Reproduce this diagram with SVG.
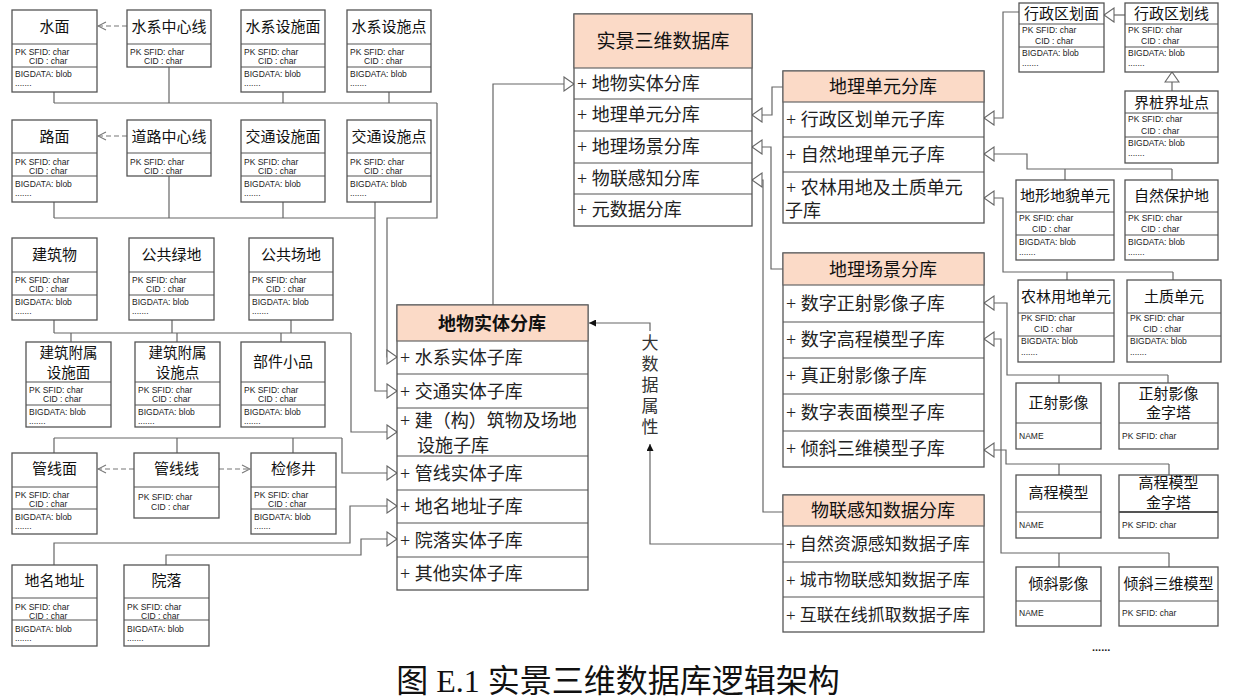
<svg xmlns="http://www.w3.org/2000/svg" width="1236" height="700" viewBox="0 0 1236 700">
<style>
.bx{fill:#fff;stroke:#555;stroke-width:1.3}
.hd{fill:#fbdac7;stroke:#666;stroke-width:1.2}
.sp{stroke:#555;stroke-width:1.1}
.t{font-family:"Noto Sans CJK SC",sans-serif;font-size:15px;fill:#111;text-anchor:middle}
.a{font-family:"Liberation Sans",Arial,sans-serif;font-size:8.5px;fill:#222}
.h{font-family:"Noto Sans CJK SC",sans-serif;font-size:18px;fill:#111;text-anchor:middle}
.i{font-family:"Liberation Serif","Noto Sans CJK SC",serif;font-size:18px;fill:#222}
.c{fill:none;stroke:#666;stroke-width:1.2}
.d{fill:none;stroke:#777;stroke-width:1.2;stroke-dasharray:5 3}
</style>
<defs>
<marker id="tri" viewBox="-1 -1 13 16" markerWidth="13" markerHeight="16" refX="10" refY="7" orient="auto" markerUnits="userSpaceOnUse"><path d="M0,0 L10,7 L0,14 z" fill="#fff" stroke="#666" stroke-width="1.1"/></marker>
<marker id="vee" viewBox="-1 -1 10 10" markerWidth="10" markerHeight="10" refX="8" refY="4" orient="auto" markerUnits="userSpaceOnUse"><path d="M0,0 L8,4 L0,8" fill="none" stroke="#777" stroke-width="1.1"/></marker>
<marker id="fil" viewBox="0 0 8 7" markerWidth="8" markerHeight="7" refX="7" refY="3.5" orient="auto" markerUnits="userSpaceOnUse"><path d="M0,0 L7,3.5 L0,7 z" fill="#111"/></marker>
</defs>
<rect width="1236" height="700" fill="#fff"/>

<g id="connectors">
<path class="c" d="M54,92V103M169,67V103M283,92V103M389,92V103M54,103H437"/>
<path class="c" d="M437,103V218H387V357H397" marker-end="url(#tri)"/>
<path class="c" d="M54,202V218M169,176V218M283,202V218M54,218H375"/>
<path class="c" d="M375,202V391H397" marker-end="url(#tri)"/>
<path class="c" d="M54,320V333M172,320V333M291,320V333M54,333H351M71,333V342M177,333V342M281,333V342"/>
<path class="c" d="M351,333V432H397" marker-end="url(#tri)"/>
<path class="c" d="M54,438H342M54,438V453M177,438V453M293,438V453"/>
<path class="c" d="M342,438V473H397" marker-end="url(#tri)"/>
<path class="c" d="M54,565V543H350V506H397" marker-end="url(#tri)"/>
<path class="c" d="M166,565V555H361V539H397" marker-end="url(#tri)"/>
<path class="d" d="M127,26H98" marker-end="url(#vee)"/>
<path class="d" d="M127,136H98" marker-end="url(#vee)"/>
<path class="d" d="M134,469H98" marker-end="url(#vee)"/>
<path class="d" d="M219,469H250" marker-end="url(#vee)"/>
<path class="c" d="M493,305V84H574" marker-end="url(#tri)"/>
<path class="c" d="M783,87H772V115H752" marker-end="url(#tri)"/>
<path class="c" d="M783,269H771V147H752" marker-end="url(#tri)"/>
<path class="c" d="M783,512H763V180H752" marker-end="url(#tri)"/>
<path class="c" d="M1019,12H1003V118H984" marker-end="url(#tri)"/>
<path class="c" d="M1125,15H1104" marker-end="url(#tri)"/>
<path class="c" d="M1172,91V72" marker-end="url(#tri)"/>
<path class="c" d="M1065,180V169M1172,180V169"/>
<path class="c" d="M1172,169H1027V154H984" marker-end="url(#tri)"/>
<path class="c" d="M1067,280V272M1173,280V272"/>
<path class="c" d="M1173,272H1003V198H984" marker-end="url(#tri)"/>
<path class="c" d="M1059,383V375M1168,383V375"/>
<path class="c" d="M1168,375H1007V303H984" marker-end="url(#tri)"/>
<path class="c" d="M1059,475V464M1169,475V464"/>
<path class="c" d="M1169,464H1006V450H984" marker-end="url(#tri)"/>
<path class="c" d="M1059,567V553M1169,567V553"/>
<path class="c" d="M1169,553H1001V339H984" marker-end="url(#tri)"/>
<path class="c" d="M783,544H650V444" marker-end="url(#fil)"/>
<path class="c" d="M650,331V323H589" marker-end="url(#fil)"/>
</g>

<text id="label-bigdata" x="650" y="334" writing-mode="vertical-rl" style="font-family:'Noto Sans CJK SC',sans-serif;font-size:17px;fill:#333;letter-spacing:4px">大数据属性</text>

<!-- Row 1 -->
<g id="n-shuimian"><rect class="bx" x="12" y="10" width="85" height="82"/><line class="sp" x1="12" y1="44" x2="97" y2="44"/><line class="sp" x1="12" y1="67" x2="97" y2="67"/>
<text class="t" x="54.5" y="32">水面</text><text class="a" x="15" y="55">PK SFID: char</text><text class="a" x="29" y="64">CID  : char</text><text class="a" x="15" y="77">BIGDATA: blob</text><text class="a" x="15" y="86">.......</text></g>
<g id="n-shuixizhongxinxian"><rect class="bx" x="127" y="10" width="84" height="57"/><line class="sp" x1="127" y1="44" x2="211" y2="44"/>
<text class="t" x="169" y="32">水系中心线</text><text class="a" x="130" y="55">PK SFID: char</text><text class="a" x="144" y="64">CID  : char</text></g>
<g id="n-shuixisheshimian"><rect class="bx" x="241" y="10" width="84" height="82"/><line class="sp" x1="241" y1="44" x2="325" y2="44"/><line class="sp" x1="241" y1="67" x2="325" y2="67"/>
<text class="t" x="283" y="32">水系设施面</text><text class="a" x="244" y="55">PK SFID: char</text><text class="a" x="258" y="64">CID  : char</text><text class="a" x="244" y="77">BIGDATA: blob</text><text class="a" x="244" y="86">.......</text></g>
<g id="n-shuixisheshidian"><rect class="bx" x="347" y="10" width="84" height="82"/><line class="sp" x1="347" y1="44" x2="431" y2="44"/><line class="sp" x1="347" y1="67" x2="431" y2="67"/>
<text class="t" x="389" y="32">水系设施点</text><text class="a" x="350" y="55">PK SFID: char</text><text class="a" x="364" y="64">CID  : char</text><text class="a" x="350" y="77">BIGDATA: blob</text><text class="a" x="350" y="86">.......</text></g>

<!-- Row 2 -->
<g id="n-lumian"><rect class="bx" x="12" y="120" width="85" height="82"/><line class="sp" x1="12" y1="153" x2="97" y2="153"/><line class="sp" x1="12" y1="176" x2="97" y2="176"/>
<text class="t" x="54.5" y="142">路面</text><text class="a" x="15" y="165">PK SFID: char</text><text class="a" x="29" y="174">CID  : char</text><text class="a" x="15" y="187">BIGDATA: blob</text><text class="a" x="15" y="196">.......</text></g>
<g id="n-daoluzhongxinxian"><rect class="bx" x="127" y="120" width="84" height="56"/><line class="sp" x1="127" y1="153" x2="211" y2="153"/>
<text class="t" x="169" y="142">道路中心线</text><text class="a" x="130" y="165">PK SFID: char</text><text class="a" x="144" y="174">CID  : char</text></g>
<g id="n-jiaotongsheshimian"><rect class="bx" x="241" y="120" width="84" height="82"/><line class="sp" x1="241" y1="153" x2="325" y2="153"/><line class="sp" x1="241" y1="176" x2="325" y2="176"/>
<text class="t" x="283" y="142">交通设施面</text><text class="a" x="244" y="165">PK SFID: char</text><text class="a" x="258" y="174">CID  : char</text><text class="a" x="244" y="187">BIGDATA: blob</text><text class="a" x="244" y="196">.......</text></g>
<g id="n-jiaotongsheshidian"><rect class="bx" x="347" y="120" width="84" height="82"/><line class="sp" x1="347" y1="153" x2="431" y2="153"/><line class="sp" x1="347" y1="176" x2="431" y2="176"/>
<text class="t" x="389" y="142">交通设施点</text><text class="a" x="350" y="165">PK SFID: char</text><text class="a" x="364" y="174">CID  : char</text><text class="a" x="350" y="187">BIGDATA: blob</text><text class="a" x="350" y="196">.......</text></g>

<!-- Row 3 -->
<g id="n-jianzhuwu"><rect class="bx" x="12" y="238" width="85" height="82"/><line class="sp" x1="12" y1="272" x2="97" y2="272"/><line class="sp" x1="12" y1="295" x2="97" y2="295"/>
<text class="t" x="54.5" y="260">建筑物</text><text class="a" x="15" y="283">PK SFID: char</text><text class="a" x="29" y="292">CID  : char</text><text class="a" x="15" y="305">BIGDATA: blob</text><text class="a" x="15" y="314">.......</text></g>
<g id="n-gonggonglvdi"><rect class="bx" x="129" y="238" width="85" height="82"/><line class="sp" x1="129" y1="272" x2="214" y2="272"/><line class="sp" x1="129" y1="295" x2="214" y2="295"/>
<text class="t" x="171.5" y="260">公共绿地</text><text class="a" x="132" y="283">PK SFID: char</text><text class="a" x="146" y="292">CID  : char</text><text class="a" x="132" y="305">BIGDATA: blob</text><text class="a" x="132" y="314">.......</text></g>
<g id="n-gonggongchangdi"><rect class="bx" x="249" y="238" width="84" height="82"/><line class="sp" x1="249" y1="272" x2="333" y2="272"/><line class="sp" x1="249" y1="295" x2="333" y2="295"/>
<text class="t" x="291" y="260">公共场地</text><text class="a" x="252" y="283">PK SFID: char</text><text class="a" x="266" y="292">CID  : char</text><text class="a" x="252" y="305">BIGDATA: blob</text><text class="a" x="252" y="314">.......</text></g>

<!-- Row 4 -->
<g id="n-jianzhufushumian"><rect class="bx" x="26" y="342" width="85" height="85"/><line class="sp" x1="26" y1="382" x2="111" y2="382"/><line class="sp" x1="26" y1="405" x2="111" y2="405"/>
<text class="t" x="68.5" y="358" style="font-size:14.5px">建筑附属<tspan x="68.5" dy="20">设施面</tspan></text><text class="a" x="29" y="393">PK SFID: char</text><text class="a" x="43" y="402">CID  : char</text><text class="a" x="29" y="415">BIGDATA: blob</text><text class="a" x="29" y="424">.......</text></g>
<g id="n-jianzhufushudian"><rect class="bx" x="135" y="342" width="85" height="85"/><line class="sp" x1="135" y1="382" x2="220" y2="382"/><line class="sp" x1="135" y1="405" x2="220" y2="405"/>
<text class="t" x="177.5" y="358" style="font-size:14.5px">建筑附属<tspan x="177.5" dy="20">设施点</tspan></text><text class="a" x="138" y="393">PK SFID: char</text><text class="a" x="152" y="402">CID  : char</text><text class="a" x="138" y="415">BIGDATA: blob</text><text class="a" x="138" y="424">.......</text></g>
<g id="n-bujianxiaopin"><rect class="bx" x="241" y="342" width="84" height="85"/><line class="sp" x1="241" y1="382" x2="325" y2="382"/><line class="sp" x1="241" y1="405" x2="325" y2="405"/>
<text class="t" x="283" y="367">部件小品</text><text class="a" x="244" y="393">PK SFID: char</text><text class="a" x="258" y="402">CID  : char</text><text class="a" x="244" y="415">BIGDATA: blob</text><text class="a" x="244" y="424">.......</text></g>

<!-- Row 5 -->
<g id="n-guanxianmian"><rect class="bx" x="12" y="453" width="85" height="81"/><line class="sp" x1="12" y1="487" x2="97" y2="487"/><line class="sp" x1="12" y1="509" x2="97" y2="509"/>
<text class="t" x="54.5" y="474">管线面</text><text class="a" x="15" y="498">PK SFID: char</text><text class="a" x="29" y="507">CID  : char</text><text class="a" x="15" y="520">BIGDATA: blob</text><text class="a" x="15" y="529">.......</text></g>
<g id="n-guanxianxian"><rect class="bx" x="134" y="453" width="85" height="65"/><line class="sp" x1="134" y1="487" x2="219" y2="487"/>
<text class="t" x="176.5" y="474">管线线</text><text class="a" x="138" y="500">PK SFID: char</text><text class="a" x="151" y="510">CID  : char</text></g>
<g id="n-jianxiujing"><rect class="bx" x="251" y="453" width="85" height="81"/><line class="sp" x1="251" y1="487" x2="336" y2="487"/><line class="sp" x1="251" y1="509" x2="336" y2="509"/>
<text class="t" x="293.5" y="474">检修井</text><text class="a" x="254" y="498">PK SFID: char</text><text class="a" x="268" y="507">CID  : char</text><text class="a" x="254" y="520">BIGDATA: blob</text><text class="a" x="254" y="529">.......</text></g>

<!-- Row 6 -->
<g id="n-dimingdizhi"><rect class="bx" x="12" y="565" width="85" height="81"/><line class="sp" x1="12" y1="598" x2="97" y2="598"/><line class="sp" x1="12" y1="620" x2="97" y2="620"/>
<text class="t" x="54.5" y="586">地名地址</text><text class="a" x="15" y="610">PK SFID: char</text><text class="a" x="29" y="619">CID  : char</text><text class="a" x="15" y="632">BIGDATA: blob</text><text class="a" x="15" y="641">.......</text></g>
<g id="n-yuanluo"><rect class="bx" x="124" y="565" width="85" height="81"/><line class="sp" x1="124" y1="598" x2="209" y2="598"/><line class="sp" x1="124" y1="620" x2="209" y2="620"/>
<text class="t" x="166.5" y="586">院落</text><text class="a" x="127" y="610">PK SFID: char</text><text class="a" x="141" y="619">CID  : char</text><text class="a" x="127" y="632">BIGDATA: blob</text><text class="a" x="127" y="641">.......</text></g>

<!-- Main DB -->
<g id="n-main"><rect class="bx" x="574" y="14" width="178" height="212"/><rect class="hd" x="574" y="14" width="178" height="54"/>
<line class="sp" x1="574" y1="99" x2="752" y2="99"/><line class="sp" x1="574" y1="131" x2="752" y2="131"/><line class="sp" x1="574" y1="163" x2="752" y2="163"/><line class="sp" x1="574" y1="194" x2="752" y2="194"/>
<text class="h" x="663" y="48" style="font-size:19px">实景三维数据库</text>
<text class="i" x="577" y="90">+ 地物实体分库</text><text class="i" x="577" y="121">+ 地理单元分库</text><text class="i" x="577" y="153">+ 地理场景分库</text><text class="i" x="577" y="185">+ 物联感知分库</text><text class="i" x="577" y="216">+ 元数据分库</text></g>

<g id="n-diwu"><rect class="bx" x="397" y="305" width="191" height="285"/><rect class="hd" x="397" y="305" width="191" height="36"/>
<line class="sp" x1="397" y1="374" x2="588" y2="374"/><line class="sp" x1="397" y1="408" x2="588" y2="408"/><line class="sp" x1="397" y1="456" x2="588" y2="456"/><line class="sp" x1="397" y1="490" x2="588" y2="490"/><line class="sp" x1="397" y1="523" x2="588" y2="523"/><line class="sp" x1="397" y1="557" x2="588" y2="557"/>
<text class="h" x="492" y="330" style="font-weight:bold">地物实体分库</text>
<text class="i" x="400" y="364">+ 水系实体子库</text><text class="i" x="400" y="398">+ 交通实体子库</text><text class="i" x="400" y="427">+ 建（构）筑物及场地<tspan x="417" dy="25">设施子库</tspan></text>
<text class="i" x="400" y="480">+ 管线实体子库</text><text class="i" x="400" y="513">+ 地名地址子库</text><text class="i" x="400" y="547">+ 院落实体子库</text><text class="i" x="400" y="580">+ 其他实体子库</text></g>

<g id="n-dili"><rect class="bx" x="783" y="71" width="201" height="152"/><rect class="hd" x="783" y="71" width="201" height="31"/>
<line class="sp" x1="783" y1="137" x2="984" y2="137"/><line class="sp" x1="783" y1="172" x2="984" y2="172"/>
<text class="h" x="883" y="93">地理单元分库</text>
<text class="i" x="786" y="126">+ 行政区划单元子库</text><text class="i" x="786" y="161">+ 自然地理单元子库</text><text class="i" x="786" y="194">+ 农林用地及土质单元<tspan x="785" dy="23">子库</tspan></text></g>

<g id="n-changjing"><rect class="bx" x="783" y="253" width="201" height="214"/><rect class="hd" x="783" y="253" width="201" height="32"/>
<line class="sp" x1="783" y1="322" x2="984" y2="322"/><line class="sp" x1="783" y1="358" x2="984" y2="358"/><line class="sp" x1="783" y1="394" x2="984" y2="394"/><line class="sp" x1="783" y1="431" x2="984" y2="431"/>
<text class="h" x="883" y="276">地理场景分库</text>
<text class="i" x="786" y="310">+ 数字正射影像子库</text><text class="i" x="786" y="346">+ 数字高程模型子库</text><text class="i" x="786" y="382">+ 真正射影像子库</text><text class="i" x="786" y="419">+ 数字表面模型子库</text><text class="i" x="786" y="455">+ 倾斜三维模型子库</text></g>

<g id="n-wulian"><rect class="bx" x="783" y="495" width="201" height="137"/><rect class="hd" x="783" y="495" width="201" height="31"/>
<line class="sp" x1="783" y1="562" x2="984" y2="562"/><line class="sp" x1="783" y1="597" x2="984" y2="597"/>
<text class="h" x="883" y="517">物联感知数据分库</text>
<text class="i" x="786" y="550" style="font-size:17px">+ 自然资源感知数据子库</text><text class="i" x="786" y="586" style="font-size:17px">+ 城市物联感知数据子库</text><text class="i" x="786" y="621" style="font-size:17px">+ 互联在线抓取数据子库</text></g>

<!-- Right small boxes -->
<g id="n-xzqhm"><rect class="bx" x="1019" y="3" width="85" height="69"/><line class="sp" x1="1019" y1="24" x2="1104" y2="24"/><line class="sp" x1="1019" y1="47" x2="1104" y2="47"/>
<text class="t" x="1061.5" y="19">行政区划面</text><text class="a" x="1022" y="33">PK SFID: char</text><text class="a" x="1035" y="44">CID  : char</text><text class="a" x="1022" y="56">BIGDATA: blob</text><text class="a" x="1022" y="66">.......</text></g>
<g id="n-xzqhx"><rect class="bx" x="1125" y="3" width="93" height="69"/><line class="sp" x1="1125" y1="24" x2="1218" y2="24"/><line class="sp" x1="1125" y1="47" x2="1218" y2="47"/>
<text class="t" x="1171.5" y="19">行政区划线</text><text class="a" x="1128" y="33">PK SFID: char</text><text class="a" x="1141" y="44">CID  : char</text><text class="a" x="1128" y="56">BIGDATA: blob</text><text class="a" x="1128" y="66">.......</text></g>
<g id="n-jiezhuang"><rect class="bx" x="1125" y="91" width="93" height="72"/><line class="sp" x1="1125" y1="113" x2="1218" y2="113"/><line class="sp" x1="1125" y1="137" x2="1218" y2="137"/>
<text class="t" x="1171.5" y="108">界桩界址点</text><text class="a" x="1128" y="122">PK SFID: char</text><text class="a" x="1141" y="134">CID  : char</text><text class="a" x="1128" y="146">BIGDATA: blob</text><text class="a" x="1128" y="156">.......</text></g>
<g id="n-dixing"><rect class="bx" x="1016" y="180" width="98" height="80"/><line class="sp" x1="1016" y1="212" x2="1114" y2="212"/><line class="sp" x1="1016" y1="235" x2="1114" y2="235"/>
<text class="t" x="1065" y="201">地形地貌单元</text><text class="a" x="1019" y="221">PK SFID: char</text><text class="a" x="1032" y="232">CID  : char</text><text class="a" x="1019" y="245">BIGDATA: blob</text><text class="a" x="1019" y="255">.......</text></g>
<g id="n-ziranbaohu"><rect class="bx" x="1125" y="180" width="93" height="80"/><line class="sp" x1="1125" y1="212" x2="1218" y2="212"/><line class="sp" x1="1125" y1="235" x2="1218" y2="235"/>
<text class="t" x="1171.5" y="201">自然保护地</text><text class="a" x="1128" y="221">PK SFID: char</text><text class="a" x="1141" y="232">CID  : char</text><text class="a" x="1128" y="245">BIGDATA: blob</text><text class="a" x="1128" y="255">.......</text></g>
<g id="n-nonglin"><rect class="bx" x="1018" y="280" width="96" height="82"/><line class="sp" x1="1018" y1="313" x2="1114" y2="313"/><line class="sp" x1="1018" y1="336" x2="1114" y2="336"/>
<text class="t" x="1066" y="302">农林用地单元</text><text class="a" x="1021" y="321">PK SFID: char</text><text class="a" x="1034" y="332">CID  : char</text><text class="a" x="1021" y="344">BIGDATA: blob</text><text class="a" x="1021" y="355">.......</text></g>
<g id="n-tuzhi"><rect class="bx" x="1127" y="280" width="94" height="82"/><line class="sp" x1="1127" y1="313" x2="1221" y2="313"/><line class="sp" x1="1127" y1="336" x2="1221" y2="336"/>
<text class="t" x="1174" y="302">土质单元</text><text class="a" x="1130" y="321">PK SFID: char</text><text class="a" x="1143" y="332">CID  : char</text><text class="a" x="1130" y="344">BIGDATA: blob</text><text class="a" x="1130" y="355">.......</text></g>
<g id="n-zhengshe"><rect class="bx" x="1016" y="383" width="85" height="66"/><line class="sp" x1="1016" y1="423" x2="1101" y2="423"/>
<text class="t" x="1058.5" y="408">正射影像</text><text class="a" x="1019" y="439">NAME</text></g>
<g id="n-zhengshejzt"><rect class="bx" x="1119" y="383" width="99" height="66"/><line class="sp" x1="1119" y1="423" x2="1218" y2="423"/>
<text class="t" x="1168.5" y="399">正射影像<tspan x="1168.5" dy="19">金字塔</tspan></text><text class="a" x="1122" y="439">PK SFID: char</text></g>
<g id="n-gaocheng"><rect class="bx" x="1016" y="475" width="85" height="63"/><line class="sp" x1="1016" y1="512" x2="1101" y2="512"/>
<text class="t" x="1058.5" y="498">高程模型</text><text class="a" x="1019" y="528">NAME</text></g>
<g id="n-gaochengjzt"><rect class="bx" x="1119" y="475" width="99" height="63"/><line class="sp" x1="1119" y1="512" x2="1218" y2="512" style="stroke-width:1.8"/>
<text class="t" x="1168.5" y="488">高程模型<tspan x="1168.5" dy="20">金字塔</tspan></text><text class="a" x="1122" y="528">PK SFID: char</text></g>
<g id="n-qingxieyx"><rect class="bx" x="1016" y="567" width="85" height="59"/><line class="sp" x1="1016" y1="601" x2="1101" y2="601"/>
<text class="t" x="1058.5" y="589">倾斜影像</text><text class="a" x="1019" y="616">NAME</text></g>
<g id="n-qingxiemx"><rect class="bx" x="1119" y="567" width="99" height="59"/><line class="sp" x1="1119" y1="601" x2="1218" y2="601"/>
<text class="t" x="1168.5" y="589">倾斜三维模型</text><text class="a" x="1122" y="616">PK SFID: char</text></g>
<text class="a" x="1092" y="651" style="font-size:11px;font-weight:bold">......</text>

<text x="618" y="692" text-anchor="middle" style="font-family:'Liberation Serif','Noto Sans CJK SC',serif;font-size:32px;fill:#111">图 E.1  实景三维数据库逻辑架构</text>
</svg>
